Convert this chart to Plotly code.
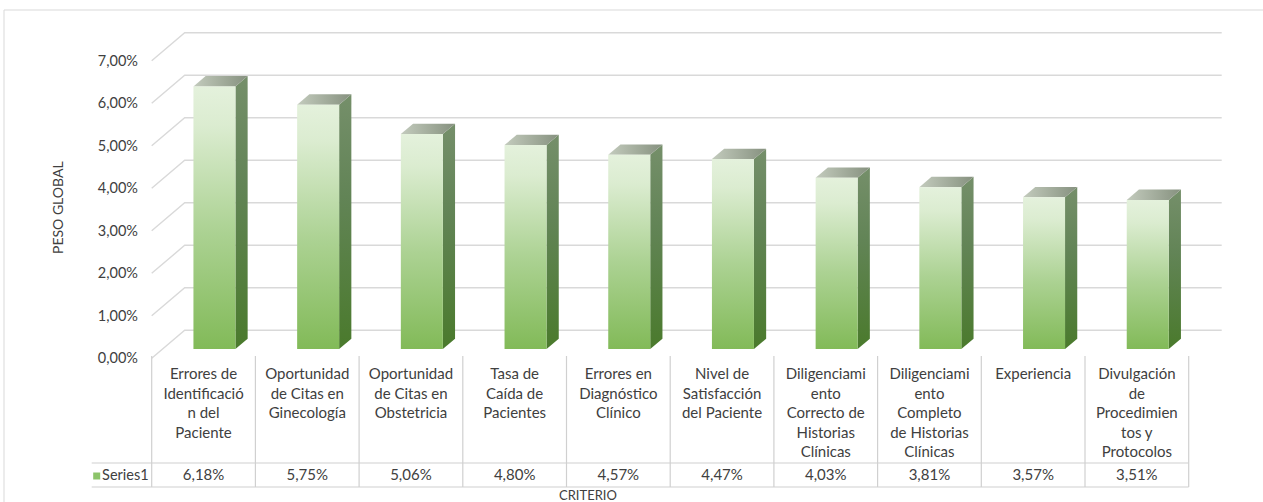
import plotly.graph_objects as go

# ---- data -------------------------------------------------------------
categories = [
    "Errores de<br>Identificació<br>n del<br>Paciente",
    "Oportunidad<br>de Citas en<br>Ginecología",
    "Oportunidad<br>de Citas en<br>Obstetricia",
    "Tasa de<br>Caída de<br>Pacientes",
    "Errores en<br>Diagnóstico<br>Clínico",
    "Nivel de<br>Satisfacción<br>del Paciente",
    "Diligenciami<br>ento<br>Correcto de<br>Historias<br>Clínicas",
    "Diligenciami<br>ento<br>Completo<br>de Historias<br>Clínicas",
    "Experiencia",
    "Divulgación<br>de<br>Procedimien<br>tos y<br>Protocolos",
]
peso_global = [0.0618, 0.0575, 0.0506, 0.0480, 0.0457, 0.0447, 0.0403, 0.0381, 0.0357, 0.0351]
series_name = "Series1"
y_ticks = [0.00, 0.01, 0.02, 0.03, 0.04, 0.05, 0.06, 0.07]
y_title = "PESO GLOBAL"
x_title = "CRITERIO"

# ---- geometry of the 3-D frame -------------------------------------------
W, H = 1263, 502
CAT_PX = 103.7      # pixels per category
LEFT_PX = 151.7     # front-left edge of the category axis
ZERO_PX = 358.3     # front-plane baseline
UNIT_PX = 4250.0    # pixels per 1.0 (=100 %)

x0 = -0.5 - LEFT_PX / CAT_PX
x1 = x0 + W / CAT_PX
y1 = ZERO_PX / UNIT_PX
y0 = -(H - ZERO_PX) / UNIT_PX

DX = 33 / CAT_PX     # depth of the wall, along x
DY = 28 / UNIT_PX    # depth of the wall, along y
F0, F1 = 0.33, 0.70  # depth span of each column
HALF_W = 0.2025      # half width of a column


def y_at(py):
    return (ZERO_PX - py) / UNIT_PX


n = len(categories)
xl, xr = -0.5, n - 0.5

FONT = "Lato, 'Open Sans', sans-serif"
TXT = "#404040"
GRID = "#d9d9d9"
TABLE = "#d0d0d0"

fig = go.Figure()

# back-wall gridlines with their diagonal on the side wall
for t in y_ticks:
    fig.add_trace(go.Scatter(
        x=[xl, xl + DX, xr + DX], y=[t, t + DY, t + DY],
        mode="lines", line=dict(color=GRID, width=1.4),
        hoverinfo="skip", showlegend=False))

# 3-D columns: front face, side face and top face
for i, v in enumerate(peso_global):
    fx0 = i - HALF_W + F0 * DX
    fx1 = i + HALF_W + F0 * DX
    fb = F0 * DY
    ft = v + F0 * DY
    ddx = (F1 - F0) * DX
    ddy = (F1 - F0) * DY

    # side face
    fig.add_trace(go.Scatter(
        x=[fx1, fx1 + ddx, fx1 + ddx, fx1, fx1],
        y=[fb, fb + ddy, ft + ddy, ft, fb],
        mode="lines", line=dict(width=0), fill="toself",
        fillgradient=dict(type="vertical",
                          colorscale=[[0, "#4a7a2c"], [0.6, "#628456"], [1, "#758f6a"]]),
        hoverinfo="skip", showlegend=False))
    # top face
    fig.add_trace(go.Scatter(
        x=[fx0, fx1, fx1 + ddx, fx0 + ddx, fx0],
        y=[ft, ft, ft + ddy, ft + ddy, ft],
        mode="lines", line=dict(width=0), fill="toself",
        fillgradient=dict(type="horizontal",
                          colorscale=[[0, "#c3cbbd"], [1, "#86917f"]]),
        hoverinfo="skip", showlegend=False))
    # front face
    fig.add_trace(go.Scatter(
        x=[fx0, fx1, fx1, fx0, fx0],
        y=[fb, fb, ft, ft, fb],
        mode="lines", line=dict(width=0), fill="toself",
        fillgradient=dict(type="vertical",
                          colorscale=[[0, "#82ba58"], [0.45, "#acd293"],
                                      [0.85, "#dbecd0"], [1, "#e4f1dc"]]),
        hoverinfo="skip", showlegend=False))

# data table grid
t_top, t_mid, t_bot = y_at(356), y_at(463), y_at(487)
for k in range(n + 1):
    fig.add_trace(go.Scatter(
        x=[xl + k, xl + k], y=[t_top, t_bot],
        mode="lines", line=dict(color=TABLE, width=1.2),
        hoverinfo="skip", showlegend=False))
row_left = xl - 60 / CAT_PX
for yy in (t_mid, t_bot):
    fig.add_trace(go.Scatter(
        x=[row_left, xr], y=[yy, yy],
        mode="lines", line=dict(color=TABLE, width=1.2),
        hoverinfo="skip", showlegend=False))

# category names inside the table
fig.add_trace(go.Scatter(
    x=list(range(n)), y=[y_at(368)] * n, text=categories,
    mode="text", textposition="bottom center",
    textfont=dict(family=FONT, size=15, color=TXT),
    hoverinfo="skip", showlegend=False, cliponaxis=False))

# value row
value_text = [f"{v * 100:.2f}".replace(".", ",") + "%" for v in peso_global]
fig.add_trace(go.Scatter(
    x=list(range(n)), y=[y_at(476)] * n, text=value_text,
    mode="text", textposition="middle center",
    textfont=dict(family=FONT, size=15, color=TXT),
    hoverinfo="skip", showlegend=False, cliponaxis=False))

# legend key of the table row
fig.add_trace(go.Scatter(
    x=[xl - 55 / CAT_PX], y=[y_at(476)],
    mode="markers+text", text=[series_name], textposition="middle right",
    marker=dict(symbol="square", size=7, color="#8cc46a"),
    textfont=dict(family=FONT, size=14.5, color=TXT),
    hoverinfo="skip", showlegend=False, cliponaxis=False))

fig.update_layout(
    width=W, height=H, autosize=False,
    margin=dict(l=0, r=0, t=0, b=0),
    paper_bgcolor="white", plot_bgcolor="white",
    separators=",.",
    font=dict(family=FONT, color=TXT),
    xaxis=dict(range=[x0, x1], visible=False, fixedrange=True),
    yaxis=dict(range=[y0, y1], anchor="free", position=138 / W,
               tickvals=y_ticks, tickformat=".2%", ticks="",
               showgrid=False, zeroline=False, showline=False,
               tickfont=dict(family=FONT, size=14.5, color=TXT),
               fixedrange=True),
    annotations=[
        dict(text=y_title, textangle=-90, xref="paper", yref="paper",
             x=57 / W, y=1 - 208 / H, xanchor="center", yanchor="middle",
             showarrow=False,
             font=dict(family=FONT, size=14, color=TXT)),
        dict(text=x_title, xref="paper", yref="paper",
             x=588 / W, y=1 - 495 / H, xanchor="center", yanchor="middle",
             showarrow=False,
             font=dict(family=FONT, size=13, color=TXT)),
    ],
    shapes=[
        dict(type="rect", xref="paper", yref="paper",
             x0=4 / W, x1=1.01, y0=-0.02, y1=1 - 10 / H,
             line=dict(color="#d9d9d9", width=1), fillcolor="rgba(0,0,0,0)",
             layer="below"),
    ],
)

fig.write_html("out.html")
